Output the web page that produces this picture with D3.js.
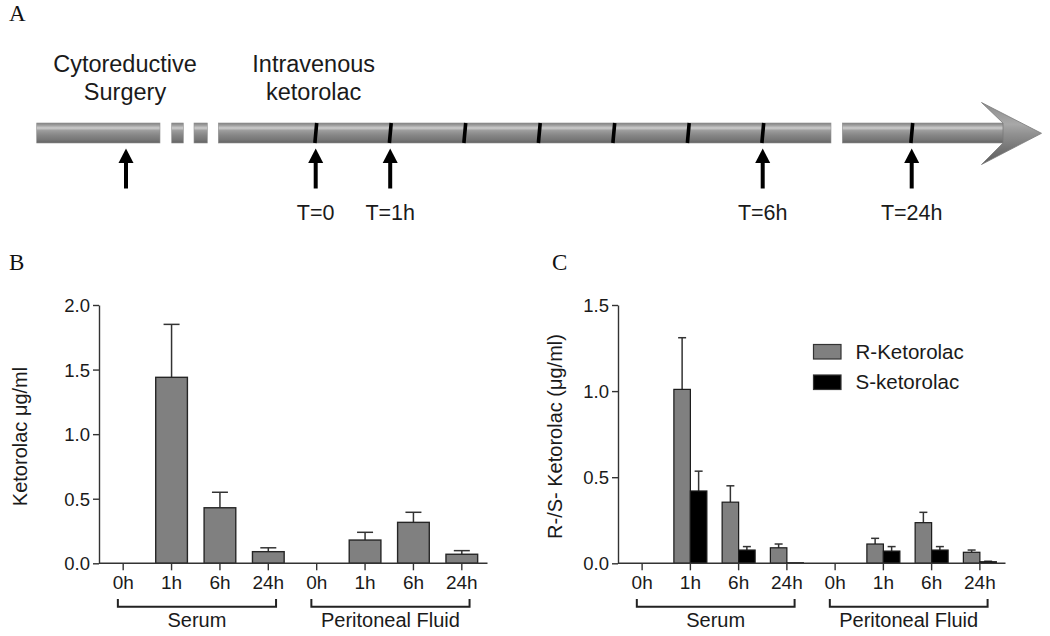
<!DOCTYPE html>
<html><head><meta charset="utf-8">
<script src="https://cdn.jsdelivr.net/npm/d3@7"></script>
<style>
body{margin:0;background:#fff}
svg{display:block}
text{font-family:"Liberation Sans",Arial,sans-serif;fill:#1a1a1a}
.serif{font-family:"Liberation Serif","Times New Roman",serif;fill:#111}
</style>
</head><body>
<svg id="chart" width="1050" height="636"></svg>
<script>
// ---------- data ----------
const timelineHours = [0, 1, 2, 3, 4, 5, 6, 24];
const arrowHours = [-5, 0, 1, 6, 24];
const arrowLabels = ["", "T=0", "T=1h", "T=6h", "T=24h"];
const phaseLabels = [["Cytoreductive", "Surgery"], ["Intravenous", "ketorolac"]];
const phaseHours = [-5, 0];

const tickLabels = ["0h", "1h", "6h", "24h", "0h", "1h", "6h", "24h"];
const groupLabels = ["Serum", "Peritoneal Fluid"];

const totalMean = [0, 1.44, 0.43, 0.09, 0, 0.18, 0.317, 0.07];
const totalSem  = [0, 0.41, 0.12, 0.03, 0, 0.06, 0.078, 0.028];

const seriesNames = ["R-Ketorolac", "S-ketorolac"];
const rMean = [0, 1.01, 0.355, 0.09, 0, 0.112, 0.236, 0.064];
const rSem  = [0, 0.30, 0.095, 0.022, 0, 0.033, 0.06, 0.013];
const sMean = [0, 0.42, 0.077, 0.003, 0, 0.071, 0.077, 0.009];
const sSem  = [0, 0.115, 0.02, 0, 0, 0.026, 0.02, 0.003];

const yTicksB = [0, 0.5, 1.0, 1.5, 2.0];
const yTicksC = [0, 0.5, 1.0, 1.5];

// ---------- setup ----------
const svg = d3.select("#chart");
const defs = svg.append("defs");
const grad = defs.append("linearGradient").attr("id","tube").attr("x1",0).attr("y1",0).attr("x2",0).attr("y2",1);
[[0,"#828282"],[0.12,"#a0a0a0"],[0.25,"#cdcdcd"],[0.38,"#9c9c9c"],[0.6,"#878787"],[0.85,"#757575"],[1,"#626262"]]
  .forEach(([o,c]) => grad.append("stop").attr("offset",o).attr("stop-color",c));
const gradH = defs.append("linearGradient").attr("id","head").attr("x1",0).attr("y1",0).attr("x2",0).attr("y2",1);
[[0,"#8c8c8c"],[0.35,"#a8a8a8"],[0.5,"#929292"],[0.75,"#747474"],[1,"#5e5e5e"]]
  .forEach(([o,c]) => gradH.append("stop").attr("offset",o).attr("stop-color",c));

// panel letters
svg.append("text").attr("class","serif").attr("x",9).attr("y",21).attr("font-size",23).text("A");
svg.append("text").attr("class","serif").attr("x",9).attr("y",270).attr("font-size",23).text("B");
svg.append("text").attr("class","serif").attr("x",552).attr("y",270).attr("font-size",23).text("C");

// ---------- Panel A: timeline ----------
const tx = d3.scaleLinear().domain([-5, 0, 6, 24]).range([126, 315.7, 762.7, 911.7]);
const barTop = 123, barH = 20;
const segments = [[36.7,160],[171.7,183.3],[194,207.3],[218.3,831],[842.3,1004]];
const gA = svg.append("g");
gA.selectAll("rect.seg").data(segments).join("rect")
  .attr("x", d => d[0]).attr("y", barTop).attr("width", d => d[1]-d[0]).attr("height", barH)
  .attr("fill","url(#tube)").attr("stroke","#909090").attr("stroke-width",0.6);
// arrow head
gA.append("path")
  .attr("d", "M1003,123 L981.5,102.5 L1041.5,133.3 L981.5,164.5 L1003,143 Z")
  .attr("fill","url(#head)").attr("stroke","#7a7a7a").attr("stroke-width",0.8);
// hour tick marks on the tube
gA.selectAll("line.ht").data(timelineHours).join("line")
  .attr("x1", d => tx(d)+1).attr("x2", d => tx(d)-0.8)
  .attr("y1", barTop).attr("y2", barTop+barH)
  .attr("stroke","#000").attr("stroke-width",3.6);
// up arrows
const ag = gA.selectAll("g.arrow").data(arrowHours).join("g").attr("transform", d => `translate(${tx(d)},0)`);
ag.append("line").attr("x1",0).attr("x2",0).attr("y1",160).attr("y2",188.5).attr("stroke","#000").attr("stroke-width",4);
ag.append("path").attr("d","M-7.5,163 L0,148.5 L7.5,163 Z").attr("fill","#000");
ag.append("text").attr("x",0).attr("y",220).attr("text-anchor","middle").attr("font-size",21.5)
  .text((d,i) => arrowLabels[i]);
// phase labels
phaseHours.forEach((h,i) => {
  const t = gA.append("text").attr("text-anchor","middle").attr("font-size",23.5);
  t.append("tspan").attr("x", tx(h)-(i?2:1)).attr("y",71.5).text(phaseLabels[i][0]);
  t.append("tspan").attr("x", tx(h)-(i?2:1)).attr("y",100).text(phaseLabels[i][1]);
});

// ---------- bar chart helper ----------
function panel(opts){
  const g = svg.append("g");
  const x = d3.scaleBand().domain(d3.range(tickLabels.length)).range(opts.xr).padding(0);
  const y = d3.scaleLinear().domain(opts.ydom).range([563.3, 305]);
  // y axis
  const ya = g.append("g").attr("transform",`translate(${opts.xr[0]},0)`)
    .call(d3.axisLeft(y).tickValues(opts.yticks).tickFormat(d3.format(".1f")).tickSize(6).tickSizeOuter(0).tickPadding(3));
  ya.select(".domain").attr("stroke","#333").attr("stroke-width",1.4);
  ya.selectAll(".tick line").attr("stroke","#333").attr("stroke-width",1.4);
  ya.selectAll(".tick text").attr("font-size",18.5).attr("font-family","Liberation Sans, Arial, sans-serif").attr("fill","#1a1a1a").attr("dy","0.36em");
  // y label
  g.append("text").attr("transform",`translate(${opts.ylx},436.5) rotate(-90)`).attr("text-anchor","middle")
    .attr("font-size",20).text(opts.ylabel);
  // bars
  opts.draw(g, x, y);
  // x axis
  const xa = g.append("g").attr("transform","translate(0,563.3)")
    .call(d3.axisBottom(x).tickFormat(i => tickLabels[i]).tickSize(7).tickSizeOuter(0).tickPadding(5));
  xa.select(".domain").attr("stroke","#333").attr("stroke-width",1.4).attr("d",`M${opts.xr[0]},0H${opts.xr[1]+1.5}`);
  xa.selectAll(".tick line").attr("stroke","#333").attr("stroke-width",1.4);
  xa.selectAll(".tick text").attr("font-size",19).attr("font-family","Liberation Sans, Arial, sans-serif").attr("fill","#1a1a1a");
  // brackets
  const step = x.step();
  [0,1].forEach(k => {
    const a = x(k*4) + step*0.39, b = x(k*4+3) + step*0.66;
    g.append("path").attr("d",`M${a},599 V606.7 H${b} V599`).attr("fill","none").attr("stroke","#222").attr("stroke-width",2);
    g.append("text").attr("x",(a+b)/2).attr("y",627).attr("text-anchor","middle").attr("font-size",20).text(groupLabels[k]);
  });
  return {x,y,g};
}

function errBar(g, cx, y0, y1, cap){
  g.append("line").attr("x1",cx).attr("x2",cx).attr("y1",y0).attr("y2",y1).attr("stroke","#333").attr("stroke-width",1.5);
  g.append("line").attr("x1",cx-cap/2).attr("x2",cx+cap/2).attr("y1",y1).attr("y2",y1).attr("stroke","#333").attr("stroke-width",1.5);
}

// ---------- Panel B ----------
panel({
  xr:[99,486], ydom:[0,2], yticks:yTicksB, ylx:27, ylabel:"Ketorolac \u03bcg/ml",
  draw:(g,x,y) => {
    const bw = x.bandwidth()*0.655;
    const idx = d3.range(totalMean.length).filter(i => totalMean[i] > 0);
    idx.forEach(i => {
      const cx = x(i)+x.bandwidth()/2;
      errBar(g, cx, y(totalMean[i]), y(totalMean[i]+totalSem[i]), 16);
    });
    g.selectAll("rect.b").data(idx).join("rect")
      .attr("x", i => x(i)+x.bandwidth()/2-bw/2).attr("width", bw)
      .attr("y", i => y(totalMean[i])).attr("height", i => y(0)-y(totalMean[i]))
      .attr("fill","#808080").attr("stroke","#262626").attr("stroke-width",1.4);
  }
});

// ---------- Panel C ----------
panel({
  xr:[618,1004], ydom:[0,1.5], yticks:yTicksC, ylx:562, ylabel:"R-/S- Ketorolac (\u03bcg/ml)",
  draw:(g,x,y) => {
    const bw = x.bandwidth()*0.342;
    const series = [{m:rMean,s:rSem,fill:"#808080",off:-1},{m:sMean,s:sSem,fill:"#000",off:0}];
    series.forEach(ser => {
      const idx = d3.range(ser.m.length).filter(i => ser.m[i] > 0);
      idx.forEach(i => {
        const cx = x(i)+x.bandwidth()/2 + ser.off*bw + bw/2;
        if (ser.s[i] > 0) errBar(g, cx, y(ser.m[i]), y(ser.m[i]+ser.s[i]), 8);
      });
      g.selectAll(null).data(idx).join("rect")
        .attr("x", i => x(i)+x.bandwidth()/2 + ser.off*bw).attr("width", bw)
        .attr("y", i => y(ser.m[i])).attr("height", i => y(0)-y(ser.m[i]))
        .attr("fill", ser.fill).attr("stroke","#1a1a1a").attr("stroke-width",1.2);
    });
    // legend
    const lg = g.append("g");
    seriesNames.forEach((n,k) => {
      lg.append("rect").attr("x",813.5).attr("y",344.5+k*30.5).attr("width",27.5).attr("height",14.5)
        .attr("fill", k ? "#000" : "#808080").attr("stroke","#333").attr("stroke-width",1.2);
      lg.append("text").attr("x",855.5).attr("y",358.5+k*30).attr("font-size",20.5).text(n);
    });
  }
});
</script>
</body></html>
